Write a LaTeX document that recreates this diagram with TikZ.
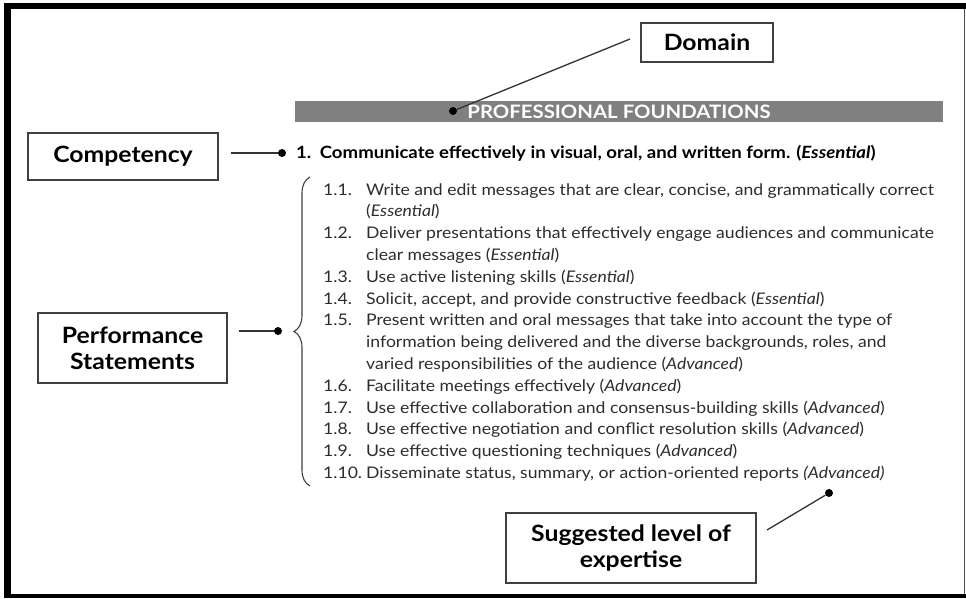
\documentclass[tikz,border=0pt]{standalone}
\usepackage{fontspec}
\setmainfont{Lato}[FakeStretch=1.1]
\usetikzlibrary{decorations.pathreplacing}
\definecolor{bargray}{RGB}{128,128,128}
\definecolor{txtgray}{RGB}{45,45,45}
\begin{document}
\begin{tikzpicture}[x=1pt,y=-1pt]
		\tikzstyle{lab}=[draw=black!75,line width=1.3pt,font=\fontsize{22.5}{26}\selectfont\bfseries,align=center,inner sep=0pt]
		\tikzstyle{dot}=[circle,fill=black,inner sep=0pt,minimum size=8pt]
		\tikzstyle{num}=[anchor=base west,inner sep=0pt,text=txtgray,font=\fontsize{16}{18}\selectfont]
		\tikzstyle{itm}=[num]
		\useasboundingbox (0,0) rectangle (966,598);
		\fill[white] (0,0) rectangle (966,598);

		% frame
		\fill[black] (4,3) rectangle (11,598);
		\fill[black] (4,3) rectangle (966,9);
		\fill[black] (4,594) rectangle (966,598);
		\draw[black!70,line width=1pt] (964,9) -- (964,594);

		% labels
		\node[lab,minimum width=132,minimum height=39] (dom) at (707,42.5) {Domain};
		\node[lab,minimum width=190,minimum height=47] (comp) at (123,156.5) {Competency};
		\node[lab,minimum width=189,minimum height=70] (perf) at (132.5,348) {Performance\\Statements};
		\node[lab,minimum width=250,minimum height=70] (lvl) at (631,548) {Suggested level of\\expertise};

		% domain bar
		\node[fill=bargray,minimum width=648,minimum height=21,inner sep=0pt,text=white,font=\fontsize{18.5}{18}\selectfont\bfseries] (bar) at (619,111.5) {PROFESSIONAL FOUNDATIONS};

		\node[dot] (d1) at (453,111) {};
		\node[dot] (d2) at (282,153) {};
		\node[dot] (d3) at (278,331) {};
		\node[dot] (d4) at (829,493) {};
		\coordinate (c1) at (630,39);
		\coordinate (c4) at (767,530);

		\draw[black!80,line width=1.3pt] (c1) -- (d1);
		\draw[black!80,line width=1.3pt,shorten <=12pt] (comp.east |- d2) -- (d2);
		\draw[black!80,line width=1.3pt,shorten <=11pt] (perf.east |- d3) -- (d3);
		\draw[black!80,line width=1.3pt] (c4) -- (d4);

		% competency
		\node[anchor=base west,inner sep=0pt,font=\fontsize{16.9}{18}\selectfont\bfseries] (c0) at (296,158) {1.\enspace Communicate effectively in visual, oral, and written form. (\textit{Essential})};

		% performance statements
		\draw[black!75,line width=1.1pt,decorate,decoration={brace,amplitude=16pt}] (310,486) -- (310,177);

		\node[num] (n1) at (323,195) {1.1.};
		\node[itm] (t1) at (366,195) {Write and edit messages that are clear, concise, and grammatically correct};
		\node[itm] (t1b) at (366,216.8) {(\textit{Essential})};
		\node[num] (n2) at (323,238.6) {1.2.};
		\node[itm] (t2) at (366,238.6) {Deliver presentations that effectively engage audiences and communicate};
		\node[itm] (t2b) at (366,260.4) {clear messages (\textit{Essential})};
		\node[num] (n3) at (323,282.2) {1.3.};
		\node[itm] (t3) at (366,282.2) {Use active listening skills (\textit{Essential})};
		\node[num] (n4) at (323,304) {1.4.};
		\node[itm] (t4) at (366,304) {Solicit, accept, and provide constructive feedback (\textit{Essential})};
		\node[num] (n5) at (323,325.8) {1.5.};
		\node[itm] (t5) at (366,325.8) {Present written and oral messages that take into account the type of};
		\node[itm] (t5b) at (366,347.6) {information being delivered and the diverse backgrounds, roles, and};
		\node[itm] (t5c) at (366,369.4) {varied responsibilities of the audience (\textit{Advanced})};
		\node[num] (n6) at (323,391.2) {1.6.};
		\node[itm] (t6) at (366,391.2) {Facilitate meetings effectively (\textit{Advanced})};
		\node[num] (n7) at (323,413) {1.7.};
		\node[itm] (t7) at (366,413) {Use effective collaboration and consensus-building skills (\textit{Advanced})};
		\node[num] (n8) at (323,434.8) {1.8.};
		\node[itm] (t8) at (366,434.8) {Use effective negotiation and conflict resolution skills (\textit{Advanced})};
		\node[num] (n9) at (323,456.6) {1.9.};
		\node[itm] (t9) at (366,456.6) {Use effective questioning techniques (\textit{Advanced})};
		\node[num] (n10) at (323,478.4) {1.10.};
		\node[itm] (t10) at (366,478.4) {Disseminate status, summary, or action-oriented reports \textit{(Advanced)}};
\end{tikzpicture}
\end{document}
